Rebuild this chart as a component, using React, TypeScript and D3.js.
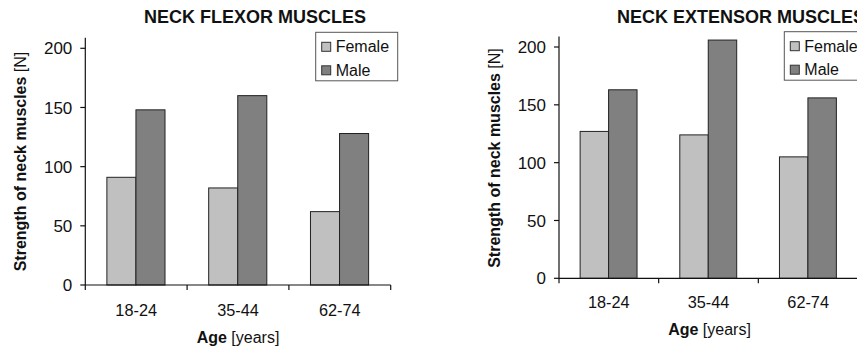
import React from "react";
import * as d3 from "d3";

const categories = ["18-24", "35-44", "62-74"];
const series = ["Female", "Male"];
const flexorFemale = [91, 82, 62];
const flexorMale = [148, 160, 128];
const extensorFemale = [127, 124, 105];
const extensorMale = [163, 206, 156];
const yTicks = [0, 50, 100, 150, 200];

const colors: Record<string, string> = { Female: "#c0c0c0", Male: "#808080" };
const FONT = "'Liberation Sans', Arial, sans-serif";

type PanelProps = {
  title: string;
  titleX: number;
  female: number[];
  male: number[];
  axisX: number;
  axisRight: number;
  y0: number;
  y200: number;
  ylabelX: number;
  ylabelY: number;
  catY: number;
  ageY: number;
  ageX: number;
  legendX: number;
  legendY: number;
};

function Panel(p: PanelProps) {
  const x = d3.scaleBand<string>().domain(categories).range([p.axisX, p.axisRight]).padding(0);
  const bw = x.bandwidth();
  const x1 = d3.scaleBand<string>().domain(series).range([bw * 0.212, bw * 0.783]).padding(0);
  const y = d3.scaleLinear().domain([0, 200]).range([p.y0, p.y200]);
  const data = categories.map((c, i) => ({ c, Female: p.female[i], Male: p.male[i] }));
  const boundaries = d3.range(categories.length + 1).map((i) => p.axisX + i * bw);
  return (
    <g fontFamily={FONT}>
      <text x={p.titleX} y={23} textAnchor="middle" fontSize={18} fontWeight="bold" fill="#111">
        {p.title}
      </text>
      {data.map((d) =>
        series.map((s) => (
          <rect
            key={d.c + s}
            x={(x(d.c) as number) + (x1(s) as number)}
            y={y((d as any)[s])}
            width={x1.bandwidth()}
            height={p.y0 - y((d as any)[s])}
            fill={colors[s]}
            stroke="#222"
            strokeWidth={1}
          />
        ))
      )}
      {/* y axis */}
      <line x1={p.axisX} x2={p.axisX} y1={p.y0} y2={y(209)} stroke="#111" strokeWidth={1.2} />
      {yTicks.map((t) => (
        <g key={t}>
          <line x1={p.axisX - 5} x2={p.axisX} y1={y(t)} y2={y(t)} stroke="#111" strokeWidth={1.2} />
          <text x={p.axisX - 13} y={y(t)} dy="0.36em" textAnchor="end" fontSize={17} fill="#111">
            {t}
          </text>
        </g>
      ))}
      {/* x axis */}
      <line x1={p.axisX} x2={p.axisRight} y1={p.y0} y2={p.y0} stroke="#111" strokeWidth={1.2} />
      {boundaries.map((bx, i) => (
        <line key={i} x1={bx} x2={bx} y1={p.y0} y2={p.y0 + 5} stroke="#111" strokeWidth={1.2} />
      ))}
      {categories.map((c) => (
        <text key={c} x={(x(c) as number) + bw / 2} y={p.catY} textAnchor="middle" fontSize={16.3} fill="#111">
          {c}
        </text>
      ))}
      <text x={p.ageX} y={p.ageY} textAnchor="middle" fontSize={16} fill="#111">
        <tspan fontWeight="bold">Age</tspan>
        <tspan> [years]</tspan>
      </text>
      <text
        transform={`translate(${p.ylabelX},${p.ylabelY}) rotate(-90)`}
        textAnchor="middle"
        fontSize={16}
        fill="#111"
      >
        <tspan fontWeight="bold">Strength of neck muscles</tspan>
        <tspan>{"  [N]"}</tspan>
      </text>
      {/* legend */}
      <rect x={p.legendX} y={p.legendY} width={82} height={48.5} fill="#fff" stroke="#555" strokeWidth={1} />
      {series.map((s, i) => (
        <g key={s}>
          <rect
            x={p.legendX + 6}
            y={p.legendY + 10 + i * 23.5}
            width={9}
            height={9}
            fill={colors[s]}
            stroke="#333"
            strokeWidth={1}
          />
          <text x={p.legendX + 20} y={p.legendY + 14.5 + i * 23.5} dy="0.35em" fontSize={16} fill="#111">
            {s}
          </text>
        </g>
      ))}
    </g>
  );
}

export default function App() {
  return (
    <svg
      width={857}
      height={347}
      style={{ position: "absolute", left: 0, top: 0, background: "#fff" }}
    >
      <rect width={857} height={347} fill="#fff" />
      <Panel
        title="NECK FLEXOR MUSCLES"
        titleX={255}
        female={flexorFemale}
        male={flexorMale}
        axisX={85.3}
        axisRight={390.7}
        y0={285}
        y200={48.3}
        ylabelX={26}
        ylabelY={161.5}
        catY={316}
        ageY={342.5}
        ageX={238}
        legendX={315.7}
        legendY={32.3}
      />
      <Panel
        title="NECK EXTENSOR MUSCLES"
        titleX={741}
        female={extensorFemale}
        male={extensorMale}
        axisX={559}
        axisRight={858}
        y0={278.3}
        y200={47}
        ylabelX={500}
        ylabelY={158}
        catY={308.3}
        ageY={335}
        ageX={709.5}
        legendX={784.3}
        legendY={31.7}
      />
    </svg>
  );
}
